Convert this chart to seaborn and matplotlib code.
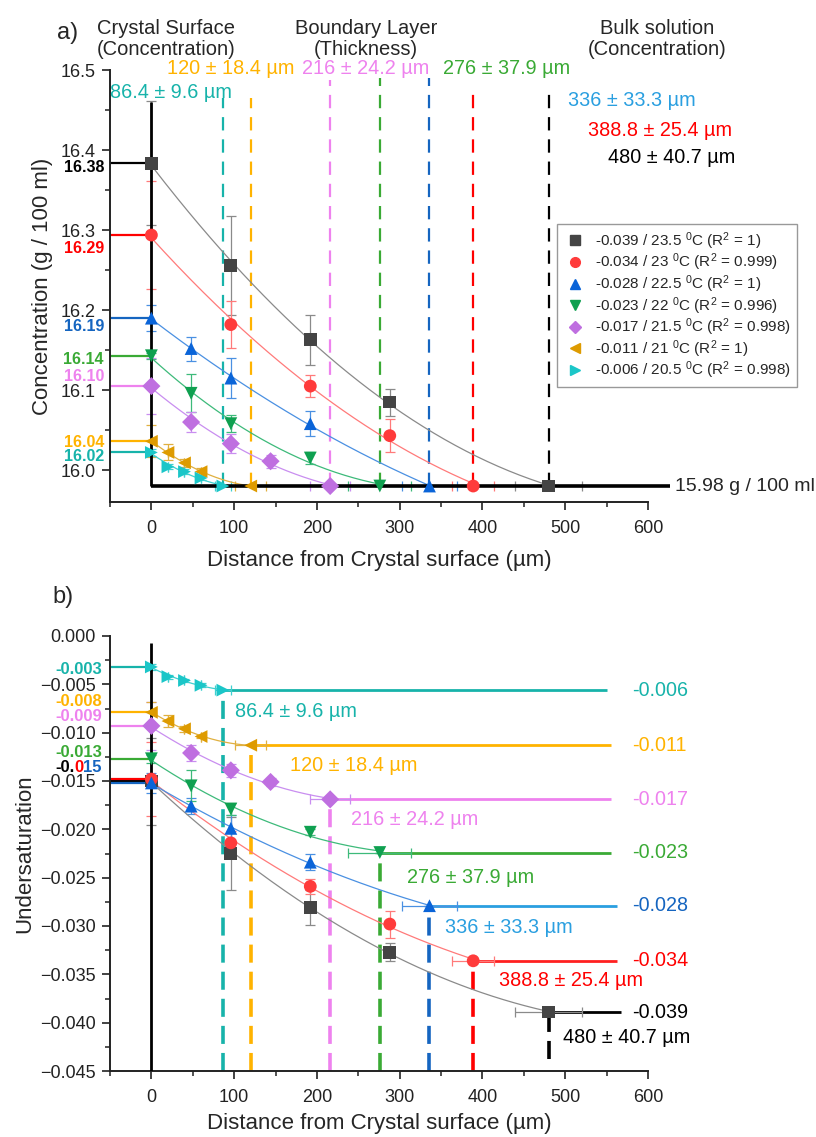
import numpy as np
import pandas as pd
import matplotlib
matplotlib.use("Agg")
import matplotlib.pyplot as plt
import matplotlib.transforms as mtransforms
from matplotlib.lines import Line2D
from matplotlib.ticker import MultipleLocator, FormatStrFormatter, FuncFormatter
import seaborn as sns

# ---------------- data ----------------
undersat_labels = ["-0.039", "-0.034", "-0.028", "-0.023", "-0.017", "-0.011", "-0.006"]
temperatures = ["23.5", "23", "22.5", "22", "21.5", "21", "20.5"]
r_squared = ["1", "0.999", "1", "0.996", "0.998", "1", "0.998"]
thickness = [480.0, 388.8, 336.0, 276.0, 216.0, 120.0, 86.4]
thickness_err = [40.7, 25.4, 33.3, 37.9, 24.2, 18.4, 9.6]
surface_labels = ["16.38", "16.29", "16.19", "16.14", "16.10", "16.04", "16.02"]
bulk_conc = 15.98

distance = [
    [0, 96, 192, 288, 480],
    [0, 96, 192, 288, 388.8],
    [0, 48, 96, 192, 336],
    [0, 48, 96, 192, 276],
    [0, 48, 96, 144, 216],
    [0, 20, 40, 60, 120],
    [0, 20, 40, 60, 86.4],
]
concentration = [
    [16.384, 16.256, 16.163, 16.085, 15.98],
    [16.294, 16.182, 16.105, 16.043, 15.98],
    [16.190, 16.152, 16.115, 16.058, 15.98],
    [16.143, 16.096, 16.058, 16.015, 15.98],
    [16.105, 16.060, 16.033, 16.011, 15.98],
    [16.036, 16.022, 16.009, 15.998, 15.98],
    [16.022, 16.004, 15.998, 15.990, 15.98],
]
concentration_err = [
    [0.078, 0.062, 0.031, 0.017, 0.0],
    [0.067, 0.029, 0.014, 0.021, 0.0],
    [0.016, 0.015, 0.025, 0.016, 0.0],
    [0.004, 0.024, 0.011, 0.008, 0.0],
    [0.035, 0.012, 0.012, 0.008, 0.0],
    [0.020, 0.010, 0.005, 0.004, 0.0],
    [0.004, 0.003, 0.003, 0.003, 0.0],
]
undersaturation = [
    [-0.0150, -0.0225, -0.0281, -0.0327, -0.0389],
    [-0.0148, -0.0214, -0.0259, -0.0298, -0.0336],
    [-0.0152, -0.0176, -0.0199, -0.0234, -0.0279],
    [-0.0127, -0.0155, -0.0179, -0.0203, -0.0224],
    [-0.0093, -0.0121, -0.0139, -0.0151, -0.0169],
    [-0.0079, -0.0088, -0.0096, -0.0104, -0.0113],
    [-0.0032, -0.0042, -0.0046, -0.0051, -0.0056],
]
undersaturation_err = [
    [0.0045, 0.0038, 0.0018, 0.0009, 0.0],
    [0.0038, 0.0012, 0.0008, 0.0014, 0.0],
    [0.0010, 0.0008, 0.0014, 0.0008, 0.0],
    [0.0004, 0.0016, 0.0006, 0.0003, 0.0],
    [0.0025, 0.0008, 0.0007, 0.0004, 0.0],
    [0.0011, 0.0006, 0.0003, 0.0002, 0.0],
    [0.0003, 0.0002, 0.0002, 0.0002, 0.0],
]

# ---------------- style ----------------
sns.set_style("ticks")
plt.rcParams["font.family"] = ["Liberation Sans", "DejaVu Sans"]
plt.rcParams["mathtext.fontset"] = "custom"
plt.rcParams["mathtext.rm"] = "Liberation Sans"
plt.rcParams["mathtext.it"] = "Liberation Sans:italic"
plt.rcParams["mathtext.bf"] = "Liberation Sans:bold"
plt.rcParams["axes.edgecolor"] = "#222222"
plt.rcParams["xtick.color"] = "#222222"
plt.rcParams["ytick.color"] = "#222222"

marker_col = ["#444444", "#FF3B3B", "#0A64D8", "#0FA050", "#BF6FE0", "#DE9B00", "#1BC6C8"]
fit_col = ["#8A8A8A", "#FF7A7A", "#4A90E2", "#3DBA7A", "#C98EF0", "#E0B040", "#3FD0D0"]
accent_col = ["#000000", "#FF0000", "#1565C0", "#3AAA35", "#EE82EE", "#FFB300", "#17B3AA"]
thick_txt_col = ["#000000", "#FF0000", "#2A9FE0", "#3AAA35", "#EE82EE", "#FFB300", "#17B3AA"]
hline_col = ["#000000", "#FF2020", "#2A9FE0", "#3AAA35", "#EE82EE", "#FFB300", "#17B3AA"]
markers = ["s", "o", "^", "v", "D", "<", ">"]
hline_end = [567, 563, 563, 555, 555, 555, 550]
dash_top = [16.48, 16.48, 16.49, 16.49, 16.488, 16.465, 16.466]

names = [f"{u} / {t} $^{{0}}$C (R$^{{2}}$ = {r})"
         for u, t, r in zip(undersat_labels, temperatures, r_squared)]

W, H = 816, 1137
fig = plt.figure(figsize=(W / 100, H / 100), dpi=100)
ax1 = fig.add_axes([110 / W, 1 - 502 / H, (648 - 110) / W, (502 - 70) / H])
ax2 = fig.add_axes([110 / W, 1 - 1071 / H, (648 - 110) / W, (1071 - 636) / H])

def fx(px):
    return px / W

def fy(py):
    return 1 - py / H

rows_top, rows_bot = [], []
for i, n in enumerate(names):
    for x, c, u in zip(distance[i], concentration[i], undersaturation[i]):
        rows_top.append({"dist": x, "val": c, "series": n})
        rows_bot.append({"dist": x, "val": u, "series": n})
df_top = pd.DataFrame(rows_top)
df_bot = pd.DataFrame(rows_bot)
pal = dict(zip(names, marker_col))
mk = dict(zip(names, markers))

# ---------------- panel a ----------------
for i in range(len(names)):
    x = np.array(distance[i], dtype=float)
    y = np.array(concentration[i])
    xerr = np.zeros_like(x)
    xerr[-1] = thickness_err[i]
    ax1.errorbar(x, y, yerr=concentration_err[i], xerr=xerr, fmt="none",
                 ecolor=fit_col[i], elinewidth=0.9, capsize=3.5, capthick=0.9, zorder=3)
    coef = np.polyfit(x, y, 2)
    xs = np.linspace(0, x[-1], 150)
    sns.lineplot(x=xs, y=np.polyval(coef, xs), color=fit_col[i], lw=0.9, ax=ax1, zorder=4)
    ax1.vlines(thickness[i], bulk_conc, dash_top[i], colors=accent_col[i],
               linestyles=(0, (6, 4)), lw=1.6, zorder=2)
    ax1.hlines(concentration[i][0], -50, 0, colors=accent_col[i], lw=1.6, zorder=2)

sns.scatterplot(data=df_top, x="dist", y="val", hue="series", style="series",
                palette=pal, markers=mk, s=85, linewidth=0, legend=False, ax=ax1, zorder=6)

ax1.vlines(0, bulk_conc, 16.46, colors="black", lw=2, zorder=5)
bl = ax1.hlines(bulk_conc, 0, 627, colors="black", lw=2.6, zorder=5)
bl.set_clip_on(False)
ax1.text(633, bulk_conc, "15.98 g / 100 ml", fontsize=14, ha="left", va="center", clip_on=False)

# left colored labels (panel a)
btr1 = mtransforms.blended_transform_factory(ax1.transAxes, ax1.transData)
lab_dy_top = [-4, -13, -8, -4, 10, -1, -4]
for i in range(len(names)):
    ax1.annotate(surface_labels[i], xy=(0, concentration[i][0]), xycoords=btr1,
                 xytext=(-6, lab_dy_top[i]), textcoords="offset pixels",
                 ha="right", va="center", fontsize=11.5, fontweight="bold",
                 color=accent_col[i], annotation_clip=False)

ax1.set_ylim(15.96, 16.5005)
ax1.yaxis.set_major_locator(MultipleLocator(0.1))
ax1.yaxis.set_minor_locator(MultipleLocator(0.05))
ax1.yaxis.set_major_formatter(FormatStrFormatter("%.1f"))
ax1.set_ylabel("Concentration (g / 100 ml)", fontsize=16, labelpad=6)
ax1.set_xlabel("Distance from Crystal surface (µm)", fontsize=16, labelpad=9)

# header texts
fig.text(fx(57), fy(33), "a)", fontsize=17, ha="left", va="center")
fig.text(fx(166), fy(39), "Crystal Surface\n(Concentration)", fontsize=14.5,
         ha="center", va="center", linespacing=1.1)
fig.text(fx(366), fy(39), "Boundary Layer\n(Thickness)", fontsize=14.5,
         ha="center", va="center", linespacing=1.1)
fig.text(fx(657), fy(39), "Bulk solution\n(Concentration)", fontsize=14.5,
         ha="center", va="center", linespacing=1.1)
top_txt_pos = [(608, 157), (588, 130), (568, 100), (443, 68), (302, 68), (167, 68), (110, 92)]
for i in range(len(names)):
    px, py = top_txt_pos[i]
    fig.text(fx(px), fy(py), f"{thickness[i]:g} ± {thickness_err[i]:g} µm",
             fontsize=14.3, color=thick_txt_col[i], ha="left", va="center")

handles = [Line2D([], [], marker=markers[i], color=marker_col[i], linestyle="none",
                  markersize=7 if markers[i] != "D" else 6) for i in range(len(names))]
fig.legend(handles, names, loc="upper left", bbox_to_anchor=(fx(557), fy(224)),
           bbox_transform=fig.transFigure, frameon=True, fancybox=False,
           edgecolor="#999999", framealpha=1, fontsize=11, labelspacing=0.0,
           handletextpad=0.5, borderpad=0.4, handlelength=1.6, borderaxespad=0)

# ---------------- panel b ----------------
for i in range(len(names)):
    x = np.array(distance[i], dtype=float)
    y = np.array(undersaturation[i])
    xerr = np.zeros_like(x)
    xerr[-1] = thickness_err[i]
    ax2.errorbar(x, y, yerr=undersaturation_err[i], xerr=xerr, fmt="none",
                 ecolor=fit_col[i], elinewidth=0.9, capsize=3.5, capthick=0.9, zorder=3)
    coef = np.polyfit(x, y, 2)
    xs = np.linspace(0, x[-1], 150)
    sns.lineplot(x=xs, y=np.polyval(coef, xs), color=fit_col[i], lw=0.9, ax=ax2, zorder=4)
    ax2.hlines(undersaturation[i][0], -50, 0, colors=accent_col[i], lw=1.6, zorder=2)
    ax2.hlines(undersaturation[i][-1], thickness[i], hline_end[i], colors=hline_col[i],
               lw=2, zorder=2)
    if i == 0:
        ax2.vlines(thickness[i], -0.0438, undersaturation[i][-1], colors=accent_col[i],
                   linestyles=(0, (5, 2.5)), lw=2.6, zorder=2)
    else:
        ax2.vlines(thickness[i], -0.045, undersaturation[i][-1], colors=accent_col[i],
                   linestyles=(0, (5, 2.5)), lw=2.6, zorder=2)
    ax2.text(581, undersaturation[i][-1], undersat_labels[i], fontsize=14.2,
             color=accent_col[i], ha="left", va="center", clip_on=False)

sns.scatterplot(data=df_bot, x="dist", y="val", hue="series", style="series",
                palette=pal, markers=mk, s=85, linewidth=0, legend=False, ax=ax2, zorder=6)
ax2.vlines(0, -0.045, -0.0007, colors="black", lw=2, zorder=5)

bot_txt_off = [(14, 25), (26, 20), (16, 22), (27, 25), (21, 20), (39, 20), (12, 21)]
for i in range(len(names)):
    dx, dy = bot_txt_off[i]
    ax2.annotate(f"{thickness[i]:g} ± {thickness_err[i]:g} µm",
                 xy=(thickness[i], undersaturation[i][-1]), xytext=(dx, -dy),
                 textcoords="offset pixels", ha="left", va="center", fontsize=14.3,
                 color=thick_txt_col[i], annotation_clip=False)

# left colored labels (panel b)
btr2 = mtransforms.blended_transform_factory(ax2.transAxes, ax2.transData)
bot_left = [(6, "-0.003", 3), (5, "-0.008", -11), (4, "-0.009", -9), (3, "-0.013", -6)]
for i, txt, dy in bot_left:
    ax2.annotate(txt, xy=(0, undersaturation[i][0]), xycoords=btr2, xytext=(-8, -dy),
                 textcoords="offset pixels", ha="right", va="center", fontsize=12,
                 fontweight="bold", color=accent_col[i], annotation_clip=False)
t15 = ax2.annotate("15", xy=(0, undersaturation[0][0]), xycoords=btr2, xytext=(-8, 14),
                   textcoords="offset pixels", ha="right", va="center", fontsize=12,
                   fontweight="bold", color=accent_col[2], annotation_clip=False)
t0 = ax2.annotate("0", xy=(0, 0), xycoords=t15, ha="right", va="bottom", fontsize=12,
                  fontweight="bold", color=accent_col[1], annotation_clip=False)
ax2.annotate("-0.", xy=(0, 0), xycoords=t0, ha="right", va="bottom", fontsize=12,
             fontweight="bold", color=accent_col[0], annotation_clip=False)

ax2.set_ylim(-0.045, 0.0)
ax2.yaxis.set_major_locator(MultipleLocator(0.005))
ax2.yaxis.set_minor_locator(MultipleLocator(0.0025))
ax2.yaxis.set_major_formatter(FuncFormatter(
    lambda v, _: "0.000" if abs(v) < 1e-9 else f"{v:.3f}".replace("-", "\u2212")))
ax2.set_ylabel("Undersaturation", fontsize=16, labelpad=4)
ax2.set_xlabel("Distance from Crystal surface (µm)", fontsize=16, labelpad=5)
fig.text(fx(52), fy(597), "b)", fontsize=17, ha="left", va="center")

for ax in (ax1, ax2):
    ax.set_xlim(-50, 600)
    ax.xaxis.set_major_locator(MultipleLocator(100))
    ax.xaxis.set_minor_locator(MultipleLocator(50))
    ax.tick_params(which="major", length=6, width=1.2, direction="out", labelsize=13, pad=4)
    ax.tick_params(which="minor", length=3.5, width=1.1, direction="out")
    ax.tick_params(axis="x", which="major", pad=7)
    for s in ("left", "bottom"):
        ax.spines[s].set_linewidth(1.4)
    sns.despine(ax=ax)

fig.savefig("out.png", dpi=100)
